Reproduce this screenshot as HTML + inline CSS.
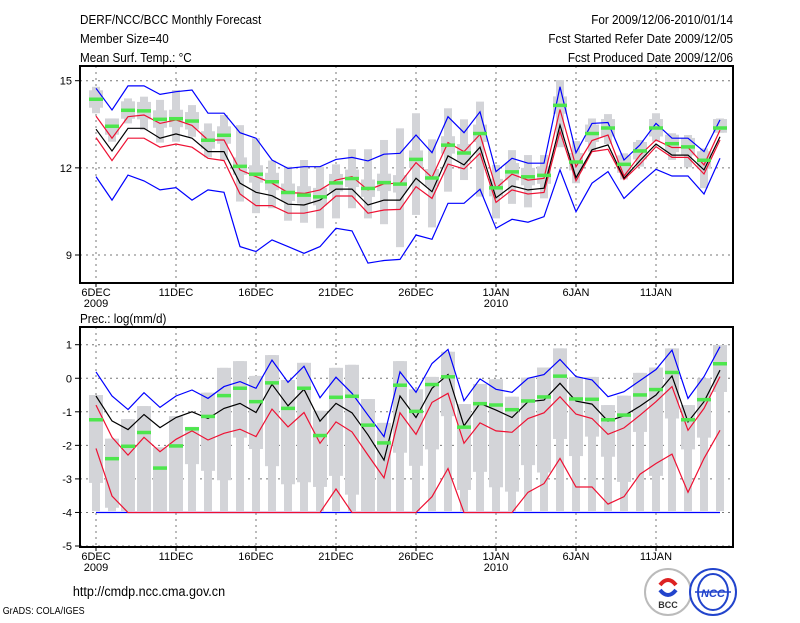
<!DOCTYPE html>
<html><head><meta charset="utf-8">
<style>
html,body{margin:0;padding:0;background:#fff;}
body{width:800px;height:618px;overflow:hidden;font-family:"Liberation Sans",sans-serif;}
svg text{font-family:"Liberation Sans",sans-serif;}
</style></head>
<body>
<svg id="chart" width="800" height="618" viewBox="0 0 800 618" xmlns="http://www.w3.org/2000/svg">
<g font-size="13" fill="#000" transform="scale(0.9,1)">
<text x="88.9" y="24">DERF/NCC/BCC Monthly Forecast</text>
<text x="88.9" y="43">Member Size=40</text>
<text x="88.9" y="62">Mean Surf. Temp.: °C</text>
<text x="814.4" y="24" text-anchor="end">For 2009/12/06-2010/01/14</text>
<text x="814.4" y="43" text-anchor="end">Fcst Started Refer Date 2009/12/05</text>
<text x="814.4" y="62" text-anchor="end">Fcst Produced Date 2009/12/06</text>
<text x="88.9" y="323">Prec.: log(mm/d)</text>
<text x="81" y="596" font-size="14">http://cmdp.ncc.cma.gov.cn</text>
<text x="3" y="614" font-size="10">GrADS: COLA/IGES</text>
</g>
<g id="top"></g>
<g id="bot"></g>
<g>
<circle cx="668" cy="592" r="23" fill="#fff" stroke="#bbb" stroke-width="2"/>
<path d="M660 585 q8 -10 16 0" stroke="#d22" stroke-width="4" fill="none"/>
<path d="M676 590 q-8 10 -16 0" stroke="#24c" stroke-width="4" fill="none"/>
<text x="668" y="608" font-size="9" text-anchor="middle" font-weight="bold" fill="#333">BCC</text>
</g>
<g>
<circle cx="713" cy="592" r="23" fill="#fff" stroke="#24c" stroke-width="2"/>
<ellipse cx="713" cy="592" rx="15" ry="18" fill="none" stroke="#24c" stroke-width="2"/>
<line x1="695" y1="592" x2="731" y2="592" stroke="#24c" stroke-width="1.5"/>
<text x="713" y="597" font-size="11" text-anchor="middle" font-weight="bold" font-style="italic" fill="#24c">NCC</text>
</g>
</svg>
<script>
// ---- data: temperature (top panel) ----
const dayLabels = ["6DEC","11DEC","16DEC","21DEC","26DEC","1JAN","6JAN","11JAN"];
const yearLabels = ["2009","","","","","2010","",""];
const tTicks = [15,12,9];
const pTicks = [1,0,-1,-2,-3,-4,-5];
const tBlueHi = [14.74,13.99,14.82,14.82,14.53,14.62,14.68,13.88,13.88,13.21,13.02,12.27,11.98,12.04,12.04,12.29,12.36,12.24,12.47,12.50,13.13,12.52,13.76,13.21,13.93,11.87,12.33,12.16,12.16,14.79,12.52,13.53,13.56,12.27,12.79,13.53,13.02,13.02,12.56,13.65];
const tBlueLo = [11.70,10.89,11.75,11.55,11.24,11.32,10.89,11.24,11.16,9.29,9.12,9.52,9.29,9.06,9.29,9.92,9.83,8.72,8.81,8.85,9.69,9.54,10.78,10.78,11.26,9.92,10.23,10.13,10.32,11.93,10.49,11.47,11.87,10.95,11.47,11.95,11.72,11.72,11.10,12.33];
const tBlack = [13.33,12.58,13.36,13.36,13.02,13.17,13.02,12.56,12.56,11.47,11.16,11.04,10.75,10.72,10.89,11.27,11.27,10.72,10.89,10.89,11.64,11.18,12.41,12.10,12.71,10.97,11.38,11.24,11.30,13.47,11.66,12.62,12.79,11.64,12.25,12.82,12.44,12.44,11.93,13.07];
const tRedHi = [13.78,13.02,13.76,13.82,13.53,13.65,13.46,12.96,12.96,11.93,11.70,11.47,11.15,11.12,11.24,11.58,11.70,11.24,11.45,11.47,12.18,11.67,12.87,12.56,13.15,11.30,11.78,11.58,11.64,14.01,12.04,12.94,13.13,11.72,12.44,12.96,12.70,12.70,12.10,13.30];
const tRedLo = [13.04,12.25,13.02,13.02,12.71,12.82,12.71,12.33,12.25,11.10,10.70,10.70,10.44,10.44,10.55,11.03,11.03,10.44,10.55,10.57,11.35,10.95,12.13,11.96,12.50,10.81,11.24,11.10,11.15,13.25,11.55,12.56,12.64,11.60,12.13,12.73,12.36,12.36,11.79,12.96];
const tGreen = [14.37,13.44,13.99,13.97,13.68,13.70,13.62,12.96,13.13,12.06,11.79,11.53,11.16,11.07,11.01,11.49,11.64,11.30,11.50,11.45,12.30,11.66,12.79,12.52,13.19,11.32,11.87,11.70,11.75,14.16,12.21,13.19,13.38,12.13,12.59,13.38,12.84,12.73,12.27,13.38];
const tBarHi = [14.79,13.70,14.39,14.45,14.34,14.68,14.16,13.53,13.82,13.47,13.02,12.25,12.04,12.27,12.04,12.12,12.64,12.64,12.96,13.36,13.88,12.98,14.05,13.67,14.28,12.10,12.61,12.44,12.44,15.02,12.92,13.70,13.85,12.50,12.96,13.88,13.19,13.13,12.67,13.70];
const tBarLo = [13.88,12.90,13.53,13.30,12.87,12.90,13.07,12.36,12.27,10.84,10.44,10.61,10.18,10.11,9.92,10.26,10.61,10.26,10.06,9.27,10.38,9.95,11.18,11.58,11.01,10.26,10.76,10.64,10.95,12.71,11.47,12.56,12.82,11.60,12.04,12.90,12.27,12.02,11.30,13.21];
// ---- data: precipitation (bottom panel) ----
const pBlueHi = [0.19,-0.53,-0.93,-0.43,-0.87,-0.53,-0.35,-0.60,-0.25,-0.10,-0.30,0.54,-0.12,0.36,-0.58,0.03,-0.45,-1.10,-1.74,0.19,-0.42,0.44,0.86,-0.67,-0.02,-0.33,-0.42,0.00,0.11,0.56,0.05,-0.05,-0.55,-0.40,-0.07,0.26,0.84,-0.60,0.05,0.94];
const pBlueLo = [-4,-4,-4,-4,-4,-4,-4,-4,-4,-4,-4,-4,-4,-4,-4,-4,-4,-4,-4,-4,-4,-4,-4,-4,-4,-4,-4,-4,-4,-4,-4,-4,-4,-4,-4,-4,-4,-4,-4,-4];
const pBlack = [-0.53,-1.27,-1.53,-1.08,-1.47,-1.17,-1.00,-1.20,-0.90,-0.75,-1.02,-0.18,-0.82,-0.33,-1.28,-0.75,-1.03,-1.69,-2.44,-0.53,-1.17,-0.30,0.11,-1.42,-0.75,-0.95,-1.17,-0.70,-0.65,-0.15,-0.68,-0.77,-1.28,-1.12,-0.83,-0.50,0.07,-1.30,-0.70,0.24];
const pRedHi = [-0.80,-1.76,-2.29,-1.76,-2.19,-1.82,-1.57,-1.84,-1.64,-1.52,-1.74,-0.92,-1.45,-1.02,-1.94,-1.30,-1.60,-2.29,-2.97,-1.03,-1.67,-0.72,-0.45,-1.94,-1.33,-1.57,-1.61,-1.20,-1.03,-0.55,-1.07,-1.20,-1.67,-1.48,-1.10,-0.70,-0.25,-1.55,-0.90,0.05];
const pRedLo = [-2.09,-3.51,-4,-4,-4,-4,-4,-4,-4,-4,-4,-4,-4,-4,-4,-3.30,-4,-4,-4,-4,-4,-3.53,-2.69,-4,-4,-4,-4,-3.40,-3.14,-2.39,-3.24,-3.24,-3.75,-3.53,-2.86,-2.54,-2.26,-3.40,-2.39,-1.55];
const pGreen = [-1.23,-2.39,-2.02,-1.61,-2.67,-2.01,-1.50,-1.13,-0.51,-0.29,-0.69,-0.13,-0.89,-0.29,-1.70,-0.56,-0.53,-1.39,-1.92,-0.20,-0.98,-0.18,0.05,-1.45,-0.75,-0.79,-0.93,-0.67,-0.55,0.07,-0.61,-0.62,-1.23,-1.09,-0.49,-0.33,0.18,-1.23,-0.63,0.44];
const pBarHi = [-0.50,-1.80,-1.22,-0.83,-2.06,-1.13,-1.45,-0.43,0.31,0.51,0.07,0.69,-0.05,0.46,-0.97,0.31,0.40,-0.62,-1.33,0.51,-0.33,0.04,0.79,-0.77,-0.17,-0.03,-0.55,0.02,0.32,0.89,0.03,0.04,-0.80,-0.52,0.16,0.32,0.89,-0.80,0.00,0.99];
const pBoxLo = [-3.12,-3.86,-3.96,-3.96,-3.96,-3.96,-2.56,-2.76,-3.04,-1.77,-2.11,-2.62,-3.16,-3.10,-3.24,-2.91,-3.47,-3.96,-3.96,-2.22,-2.61,-2.12,-1.13,-3.33,-2.79,-3.25,-3.38,-2.59,-2.81,-1.81,-2.32,-1.74,-2.34,-3.09,-1.60,-2.91,-1.20,-2.12,-1.77,-0.41];
const pBarLo = [-3.96,-3.96,-3.96,-3.96,-3.96,-3.96,-3.96,-3.96,-3.96,-3.96,-3.96,-3.96,-3.96,-3.96,-3.96,-3.96,-3.96,-3.96,-3.96,-3.96,-3.96,-3.96,-3.96,-3.96,-3.96,-3.96,-3.96,-3.96,-3.96,-3.96,-3.96,-3.96,-3.96,-3.96,-3.96,-3.96,-3.96,-3.96,-3.96,-3.96];

const NS="http://www.w3.org/2000/svg";
const L=80,R=733;
const xs=i=>96+16*i;
function mk(parent,tag,attrs){const e=document.createElementNS(NS,tag);for(const k in attrs)e.setAttribute(k,attrs[k]);parent.appendChild(e);return e;}
function panel(g,top,bottom,ys,ticks){
  for(let k=0;k<dayLabels.length;k++){
    const x=xs(k*5);
    const gl=mk(g,'line',{x1:x,x2:x,y1:top,y2:bottom,stroke:'#777','stroke-dasharray':'2,4','stroke-width':1});
    
    
    const t=mk(g,'text',{x:x,y:bottom+13,'font-size':11,'text-anchor':'middle'});
    t.textContent=dayLabels[k];
    
    
    mk(g,'line',{x1:x,x2:x,y1:bottom,y2:bottom+4,stroke:'#000'});
    if(yearLabels[k]){const t2=mk(g,'text',{x:x,y:bottom+24,'font-size':11,'text-anchor':'middle'});t2.textContent=yearLabels[k];
      
      }
  }
  ticks.forEach(v=>{
    const y=ys(v);
    const gl=mk(g,'line',{x1:L,x2:R,y1:y,y2:y,stroke:'#777','stroke-dasharray':'2,4'});
    
    
    mk(g,'line',{x1:L-5,x2:L,y1:y,y2:y,stroke:'#000'});
    const t=mk(g,'text',{x:L-8,y:y+4,'font-size':11,'text-anchor':'end'});t.textContent=v;
    
    
  });
  return g;
}
function bars(g,hi,lo,boxHi,boxLo,ys){
  for(let i=0;i<hi.length;i++){
    const x=xs(i);
    const b=mk(g,'rect',{x:x-4,y:ys(hi[i]),width:8,height:Math.max(1,ys(lo[i])-ys(hi[i])),fill:'#d3d4d8'});
    
    
    const bx=mk(g,'rect',{x:x-7,y:ys(boxHi[i]),width:14,height:Math.max(1,ys(boxLo[i])-ys(boxHi[i])),fill:'#d3d4d8'});
    
    
  }
}
function line(g,arr,ys,color,name){
  const p=mk(g,'polyline',{points:arr.map((v,i)=>xs(i)+','+ys(v).toFixed(1)).join(' '),fill:'none',stroke:color,'stroke-width':1.2});
  
  
}
function greens(g,arr,ys){
  arr.forEach((v,i)=>{
    const r=mk(g,'rect',{x:xs(i)-7,y:ys(v)-1.5,width:14,height:3.5,fill:'#4de64d'});
    
    
  });
}
const tTop=66,tBot=283;
const ty=v=>80.7+(15-v)*29.05;
const gt=document.getElementById('top');
panel(gt,tTop,tBot,ty,tTicks);
const tBoxHi=tGreen.map((v,i)=>Math.min(tBarHi[i],v+0.3));
const tBoxLo=tGreen.map((v,i)=>Math.max(tBarLo[i],v-0.3));
bars(gt,tBarHi,tBarLo,tBoxHi,tBoxLo,ty);
line(gt,tBlueHi,ty,'#0000ff','blue-upper-line');
line(gt,tBlueLo,ty,'#0000ff','blue-lower-line');
line(gt,tRedHi,ty,'#ee1133','red-upper-line');
line(gt,tRedLo,ty,'#ee1133','red-lower-line');
line(gt,tBlack,ty,'#000','black-median-line');
greens(gt,tGreen,ty);
mk(gt,'rect',{x:L,y:tTop,width:R-L,height:tBot-tTop,fill:'none',stroke:'#000','stroke-width':2});
const pTop=327,pBot=547;
const py=v=>344.7+(1-v)*33.55;
const gb=document.getElementById('bot');
panel(gb,pTop,pBot,py,pTicks);
bars(gb,pBarHi,pBarLo,pBarHi,pBoxLo,py);
line(gb,pBlueHi,py,'#0000ff','blue-upper-line');
line(gb,pBlueLo,py,'#0000ff','blue-lower-line');
line(gb,pRedHi,py,'#ee1133','red-upper-line');
line(gb,pRedLo,py,'#ee1133','red-lower-line');
line(gb,pBlack,py,'#000','black-median-line');
greens(gb,pGreen,py);
mk(gb,'rect',{x:L,y:pTop,width:R-L,height:pBot-pTop,fill:'none',stroke:'#000','stroke-width':2});
</script>
</body></html>
